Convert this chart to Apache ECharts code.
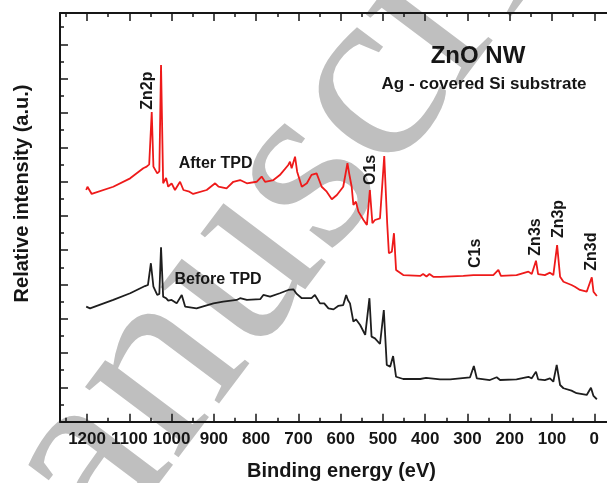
<!DOCTYPE html>
<html><head><meta charset="utf-8">
<script src="https://cdn.jsdelivr.net/npm/echarts@6/dist/echarts.min.js"></script>
<style>html,body{margin:0;padding:0;background:#fff}#c{width:607px;height:483px}</style>
</head><body><div id="c"></div>
<script>
// Binding energy (eV), relative intensity (a.u.)
const afterTPD = [
[1202,135.1],[1199,137.0],[1189,132.8],[1138,137.0],[1098,141.9],[1067,147.8],[1059,148.7],[1053,150.0],
[1047,180.6],[1043,148.7],[1034,144.8],[1029,146.0],[1025,208.0],[1020,139.0],[1013,142.1],[1008,137.0],
[1000,139.0],[992,135.1],[980,139.9],[972,135.1],[958,134.1],[949,132.8],[917,135.1],[897,139.0],
[889,137.0],[870,136.1],[854,139.9],[838,140.9],[822,139.0],[799,139.9],[787,142.9],[779,139.9],
[759,140.9],[744,143.8],[724,149.7],[720,151.6],[716,147.8],[708,154.5],[703,145.8],[692,137.0],
[680,139.0],[669,143.9],[657,144.8],[651,140.9],[645,137.0],[633,134.1],[621,129.7],[609,132.2],
[594,137.0],[584,150.7],[580,144.8],[574,137.0],[570,126.4],[564,128.3],[558,122.5],[546,117.6],
[538,114.7],[531,135.1],[525,115.7],[519,117.6],[507,118.6],[497,154.9],[490,115.7],[486,98.2],
[479,99.1],[474,109.9],[469,88.5],[452,85.5],[412,85.0],[405,86.1],[397,84.7],[390,86.1],[381,84.5],
[365,84.5],[310,85.0],[286,85.5],[239,85.5],[227,88.5],[221,85.0],[184,85.5],[156,87.5],[148,86.1],
[138,93.9],[133,86.1],[117,85.5],[105,86.9],[97,85.5],[88,103.0],[81,84.5],[73,81.6],[54,79.7],
[46,78.7],[34,76.8],[18,75.8],[6,84.2],[2,75.8],[-6,73.3]
];
const beforeTPD = [
[1202,67.1],[1193,66.1],[1138,71.0],[1098,74.9],[1063,79.1],[1056,79.7],[1049,92.4],[1043,78.7],
[1034,73.9],[1029,74.5],[1025,101.7],[1020,72.9],[1013,72.0],[1008,70.6],[1000,71.0],[988,69.0],
[976,73.9],[968,67.1],[941,66.1],[901,69.0],[878,70.0],[846,71.0],[838,72.0],[822,71.0],[790,71.5],
[783,73.9],[767,72.9],[744,74.9],[724,76.8],[712,77.2],[704,74.5],[692,72.0],[669,72.0],[661,73.9],
[649,69.0],[639,69.0],[629,66.1],[617,65.5],[606,67.5],[594,68.0],[587,73.9],[583,71.0],[578,69.0],
[570,58.3],[564,59.7],[554,56.4],[542,50.6],[532,72.0],[527,49.6],[519,48.6],[507,45.3],[498,65.1],
[491,33.1],[483,32.1],[476,38.3],[469,26.2],[452,24.9],[412,24.9],[398,25.5],[365,24.7],[341,24.7],
[294,25.9],[285,32.5],[278,25.3],[247,24.3],[231,25.9],[223,24.3],[184,24.7],[156,26.2],[148,25.3],
[138,29.2],[133,24.7],[117,24.3],[105,25.3],[97,23.3],[89,33.1],[81,21.4],[73,19.5],[54,18.1],
[42,16.6],[18,15.6],[8,19.8],[2,15.0],[-6,13.1]
];
const energyTickLabels = [0,100,200,300,400,500,600,700,800,900,1000,1100,1200];
const peakNames = ['Zn2p','O1s','C1s','Zn3s','Zn3p','Zn3d'];
const peakAnchors = [[1056,193.0],[529,146.8],[282,98.2],[140,107.7],[83.5,118.2],[6.6,99.2]];
const curveNames = ['After TPD','Before TPD'];
const curveAnchors = [[896,150.3],[890,82.6]];

const FONT = 'Liberation Sans, Arial, sans-serif';
const INK = '#161616';
const chart = echarts.init(document.getElementById('c'), null, {renderer:'canvas'});

const axisCommon = {
  type:'value', inverse:true, min:-100, max:1264, interval:100,
  axisLine:{show:true, onZero:false, lineStyle:{color:INK, width:2}},
  axisTick:{show:true, inside:true, length:8, lineStyle:{color:INK, width:1.5}},
  minorTick:{show:true, splitNumber:2, length:4, lineStyle:{color:INK, width:1.5}},
  splitLine:{show:false}
};

chart.setOption({
  animation:false,
  backgroundColor:'#fff',
  grid:{left:60, top:13, right:-29.6, bottom:61.3, containLabel:false, outerBoundsMode:'none'},
  xAxis:[
    Object.assign({}, axisCommon, {position:'bottom',
      axisLabel:{show:true, fontFamily:FONT, fontSize:17, fontWeight:'bold', color:INK, margin:9,
        formatter:v => (energyTickLabels.indexOf(v) >= 0 ? String(v) : '')}}),
    Object.assign({}, axisCommon, {position:'top', axisLabel:{show:false}})
  ],
  yAxis:{type:'value', min:0, max:238.3, interval:20,
    axisLine:{show:true, onZero:false, lineStyle:{color:INK, width:2}},
    axisTick:{show:true, inside:true, length:8, lineStyle:{color:INK, width:1.5}},
    minorTick:{show:true, splitNumber:2, length:4, lineStyle:{color:INK, width:1.5}},
    axisLabel:{show:false}, splitLine:{show:false}},
  series:[
    {name:'After TPD', type:'line', data:afterTPD, showSymbol:false, symbol:'none',
      lineStyle:{color:'#ee1a1a', width:1.8}, z:3},
    {name:'Before TPD', type:'line', data:beforeTPD, showSymbol:false, symbol:'none',
      lineStyle:{color:'#1e1e1e', width:1.8}, z:3}
  ]
});

const g = [];
// watermark
g.push({type:'text', x:275, y:218, rotation:53*Math.PI/180, z:-10, silent:true,
  style:{text:'manuscript', fontFamily:'Liberation Serif, Times New Roman, serif', fontSize:255,
    fill:'#bfbfbf', align:'center', verticalAlign:'middle'}});
// titles
g.push({type:'text', x:478, y:56, z:10, style:{text:'ZnO NW', fontFamily:FONT, fontSize:24, fontWeight:'bold', fill:INK, align:'center', verticalAlign:'middle'}});
g.push({type:'text', x:484, y:84, z:10, style:{text:'Ag - covered Si substrate', fontFamily:FONT, fontSize:17, fontWeight:'bold', fill:INK, align:'center', verticalAlign:'middle'}});
// axis names
g.push({type:'text', x:341.5, y:471, z:10, style:{text:'Binding energy (eV)', fontFamily:FONT, fontSize:20, fontWeight:'bold', fill:INK, align:'center', verticalAlign:'middle'}});
g.push({type:'text', x:22, y:193.5, rotation:Math.PI/2, z:10, style:{text:'Relative intensity (a.u.)', fontFamily:FONT, fontSize:20, fontWeight:'bold', fill:INK, align:'center', verticalAlign:'middle'}});
// peak labels
peakNames.forEach((n,i) => {
  const p = chart.convertToPixel({xAxisIndex:0, yAxisIndex:0}, peakAnchors[i]);
  g.push({type:'text', x:p[0], y:p[1], rotation:Math.PI/2, z:10,
    style:{text:n, fontFamily:FONT, fontSize:16, fontWeight:'bold', fill:INK, align:'center', verticalAlign:'middle'}});
});
curveNames.forEach((n,i) => {
  const p = chart.convertToPixel({xAxisIndex:0, yAxisIndex:0}, curveAnchors[i]);
  g.push({type:'text', x:p[0], y:p[1], z:10,
    style:{text:n, fontFamily:FONT, fontSize:16, fontWeight:'bold', fill:INK, align:'center', verticalAlign:'middle'}});
});
chart.setOption({graphic:g});
</script>
</body></html>
